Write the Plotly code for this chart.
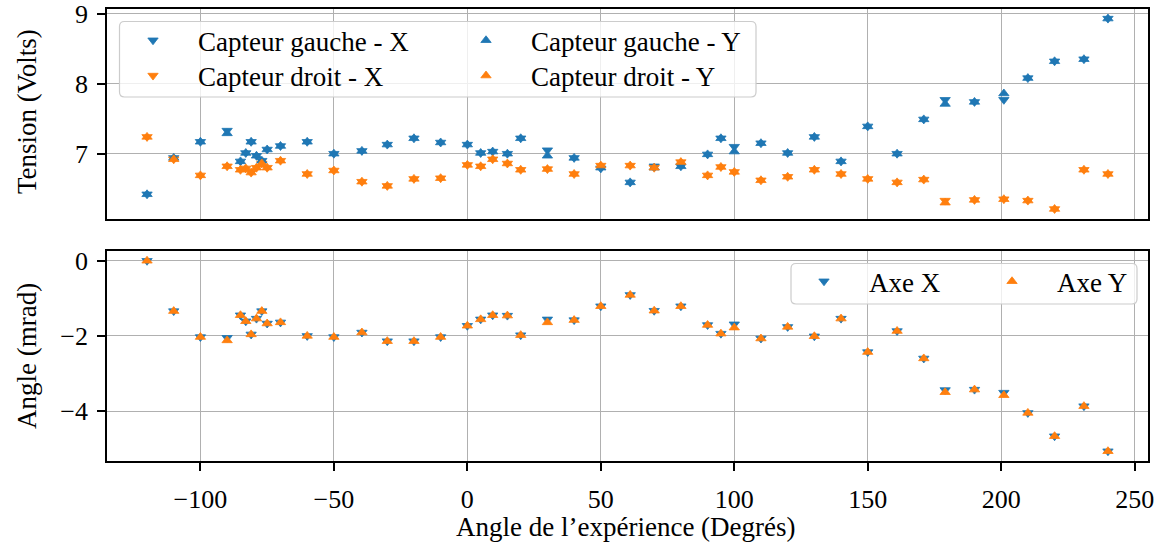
import plotly.graph_objects as go

# ---------------- data ----------------
angles = [-120, -110, -100, -90, -85, -83, -81, -79, -77, -75, -70, -60, -50, -39.5,
          -30, -20, -10, 0, 5, 9.5, 15, 20, 30, 40, 50, 61, 70, 80, 90, 95, 100,
          110, 120, 130, 140, 150, 161, 171, 179, 190, 201, 210, 220, 231, 240]

gauche_x = [6.42, 6.94, 7.17, 7.33, 6.89, 7.01, 7.17, 6.97, 6.90, 7.06, 7.11, 7.17, 7.00, 7.04,
            7.13, 7.22, 7.16, 7.13, 7.01, 7.03, 7.00, 7.22, 7.05, 6.94, 6.79, 6.59, 6.82, 6.82,
            6.99, 7.22, 7.10, 7.15, 7.01, 7.24, 6.89, 7.39, 7.00, 7.49, 7.77, 7.74, 7.77, 8.08,
            8.32, 8.35, 8.93]
gauche_y = [6.42, 6.94, 7.17, 7.29, 6.89, 7.01, 7.17, 6.97, 6.90, 7.06, 7.11, 7.17, 7.00, 7.04,
            7.13, 7.22, 7.16, 7.13, 7.01, 7.03, 7.00, 7.22, 6.97, 6.94, 6.80, 6.59, 6.80, 6.82,
            6.99, 7.22, 7.03, 7.15, 7.01, 7.24, 6.89, 7.39, 7.00, 7.49, 7.71, 7.74, 7.86, 8.08,
            8.32, 8.35, 8.93]
droit_x = [7.24, 6.92, 6.69, 6.82, 6.77, 6.79, 6.73, 6.80, 6.86, 6.80, 6.90, 6.71, 6.76, 6.60,
           6.54, 6.64, 6.65, 6.84, 6.82, 6.92, 6.86, 6.77, 6.78, 6.71, 6.83, 6.83, 6.80, 6.88,
           6.69, 6.81, 6.74, 6.62, 6.67, 6.77, 6.71, 6.64, 6.59, 6.63, 6.33, 6.34, 6.35, 6.33,
           6.21, 6.77, 6.71]
droit_y = [7.24, 6.92, 6.69, 6.82, 6.77, 6.79, 6.73, 6.80, 6.86, 6.80, 6.90, 6.71, 6.76, 6.60,
           6.54, 6.64, 6.65, 6.84, 6.82, 6.92, 6.86, 6.77, 6.78, 6.71, 6.83, 6.83, 6.80, 6.88,
           6.69, 6.81, 6.74, 6.62, 6.67, 6.77, 6.71, 6.64, 6.59, 6.63, 6.30, 6.34, 6.35, 6.33,
           6.21, 6.77, 6.71]

axe_x = [0.00, -1.34, -2.03, -2.05, -1.45, -1.61, -1.96, -1.54, -1.34, -1.67, -1.64, -2.00, -2.03,
         -1.91, -2.14, -2.14, -2.03, -1.73, -1.56, -1.45, -1.46, -1.98, -1.56, -1.58, -1.21, -0.91,
         -1.33, -1.21, -1.71, -1.94, -1.69, -2.07, -1.76, -2.01, -1.54, -2.43, -1.87, -2.60, -3.44,
         -3.43, -3.51, -4.05, -4.67, -3.87, -5.07]
axe_y = [0.00, -1.34, -2.03, -2.12, -1.45, -1.61, -1.96, -1.54, -1.34, -1.67, -1.64, -2.00, -2.03,
         -1.91, -2.14, -2.14, -2.03, -1.73, -1.56, -1.45, -1.46, -1.98, -1.64, -1.58, -1.21, -0.91,
         -1.33, -1.21, -1.71, -1.94, -1.78, -2.07, -1.76, -2.01, -1.54, -2.43, -1.87, -2.60, -3.50,
         -3.43, -3.58, -4.05, -4.67, -3.87, -5.07]

x_ticks = [-100, -50, 0, 50, 100, 150, 200, 250]
top_ticks = [7, 8, 9]
bot_ticks = [0, -2, -4]

# ---------------- style ----------------
BLUE = '#1f77b4'
ORANGE = '#ff7f0e'
FONT = 'Liberation Serif'
FS = 27
TFS = 26
W, H = 1161, 549
ML, MR, MT, MB = 107, 13, 9, 88
PW = W - ML - MR
PH = H - MT - MB


def pxx(px):
    return (px - ML) / PW


def pxy(py):
    return (H - MB - py) / PH


fig = go.Figure()


def add(x, y, name, color, symbol, xa, ya, legend):
    fig.add_trace(go.Scatter(
        x=x, y=y, mode='markers', name=name,
        marker=dict(symbol=symbol, color=color, size=9, line=dict(width=0.8, color=color)),
        xaxis=xa, yaxis=ya, legend=legend, hoverinfo='skip'))


add(angles, gauche_x, 'Capteur gauche - X', BLUE, 'triangle-down', 'x', 'y', 'legend')
add(angles, droit_x, 'Capteur droit - X', ORANGE, 'triangle-down', 'x', 'y', 'legend2')
add(angles, gauche_y, 'Capteur gauche - Y', BLUE, 'triangle-up', 'x', 'y', 'legend3')
add(angles, droit_y, 'Capteur droit - Y', ORANGE, 'triangle-up', 'x', 'y', 'legend4')
add(angles, axe_x, 'Axe X', BLUE, 'triangle-down', 'x2', 'y2', 'legend5')
add(angles, axe_y, 'Axe Y', ORANGE, 'triangle-up', 'x2', 'y2', 'legend6')

axis_common = dict(showline=True, mirror=True, linecolor='black', linewidth=1.6,
                   showgrid=True, gridcolor='#b0b0b0', gridwidth=1, zeroline=False,
                   automargin=False, ticklabeloverflow='allow',
                   tickfont=dict(family=FONT, size=TFS, color='black'))

top_dom = [1 - 210 / PH, 1]
bot_dom = [0, 210 / PH]

fig.update_layout(
    width=W, height=H,
    margin=dict(l=ML, r=MR, t=MT, b=MB, autoexpand=False),
    paper_bgcolor='white', plot_bgcolor='white',
    font=dict(family=FONT, size=FS, color='black'),
    xaxis=dict(axis_common, anchor='y', domain=[0, 1], range=[-135, 255], tickvals=x_ticks,
               showticklabels=False, ticks='', matches='x2'),
    yaxis=dict(axis_common, anchor='x', domain=top_dom, range=[6.067, 9.067], tickvals=top_ticks,
               ticks='outside', ticklen=8, tickwidth=1.6, tickcolor='black', ticklabelstandoff=4),
    xaxis2=dict(axis_common, anchor='y2', domain=[0, 1], range=[-135, 255], tickvals=x_ticks,
                ticks='outside', ticklen=8, tickwidth=1.6, tickcolor='black', ticklabelstandoff=6),
    yaxis2=dict(axis_common, anchor='x2', domain=bot_dom, range=[-5.33, 0.26], tickvals=bot_ticks,
                ticks='outside', ticklen=8, tickwidth=1.6, tickcolor='black', ticklabelstandoff=4),
    showlegend=True,
)

leg_common = dict(bgcolor='rgba(0,0,0,0)', borderwidth=0, itemwidth=80, xanchor='left',
                  yanchor='middle', font=dict(family=FONT, size=FS, color='black'),
                  xref='paper', yref='paper', itemclick=False, itemdoubleclick=False)
fig.update_layout(
    legend=dict(leg_common, x=pxx(153 - 45), y=pxy(40.7)),
    legend2=dict(leg_common, x=pxx(153 - 45), y=pxy(76)),
    legend3=dict(leg_common, x=pxx(486 - 45), y=pxy(40.7)),
    legend4=dict(leg_common, x=pxx(486 - 45), y=pxy(76)),
    legend5=dict(leg_common, x=pxx(824 - 45), y=pxy(281.7)),
    legend6=dict(leg_common, x=pxx(1012 - 45), y=pxy(281.7)),
)


def rrect(x0, y0, x1, y1, r):
    def P(a, b):
        return f'{pxx(a):.5f},{pxy(b):.5f}'
    return (f'M {P(x0 + r, y0)} L {P(x1 - r, y0)} Q {P(x1, y0)} {P(x1, y0 + r)} '
            f'L {P(x1, y1 - r)} Q {P(x1, y1)} {P(x1 - r, y1)} L {P(x0 + r, y1)} '
            f'Q {P(x0, y1)} {P(x0, y1 - r)} L {P(x0, y0 + r)} Q {P(x0, y0)} {P(x0 + r, y0)} Z')


for box in [(119.5, 21.5, 756, 97), (791, 263.5, 1137, 304)]:
    fig.add_shape(type='path', xref='paper', yref='paper', path=rrect(*box, 5),
                  fillcolor='rgba(255,255,255,0.8)', line=dict(color='#cccccc', width=1.2),
                  layer='above')

fig.add_annotation(text='Tension (Volts)', xref='paper', yref='paper', x=pxx(27), y=pxy(112),
                   textangle=-90, showarrow=False, xanchor='center', yanchor='middle',
                   font=dict(family=FONT, size=FS, color='black'))
fig.add_annotation(text='Angle (mrad)', xref='paper', yref='paper', x=pxx(27), y=pxy(356),
                   textangle=-90, showarrow=False, xanchor='center', yanchor='middle',
                   font=dict(family=FONT, size=FS, color='black'))
fig.add_annotation(text='Angle de l\u2019expérience (Degrés)', xref='paper', yref='paper',
                   x=pxx(626), y=pxy(527), showarrow=False, xanchor='center', yanchor='middle',
                   font=dict(family=FONT, size=FS, color='black'))

fig.write_html('out.html', config={'displayModeBar': False},
               post_script="document.body.style.margin='0px';")
